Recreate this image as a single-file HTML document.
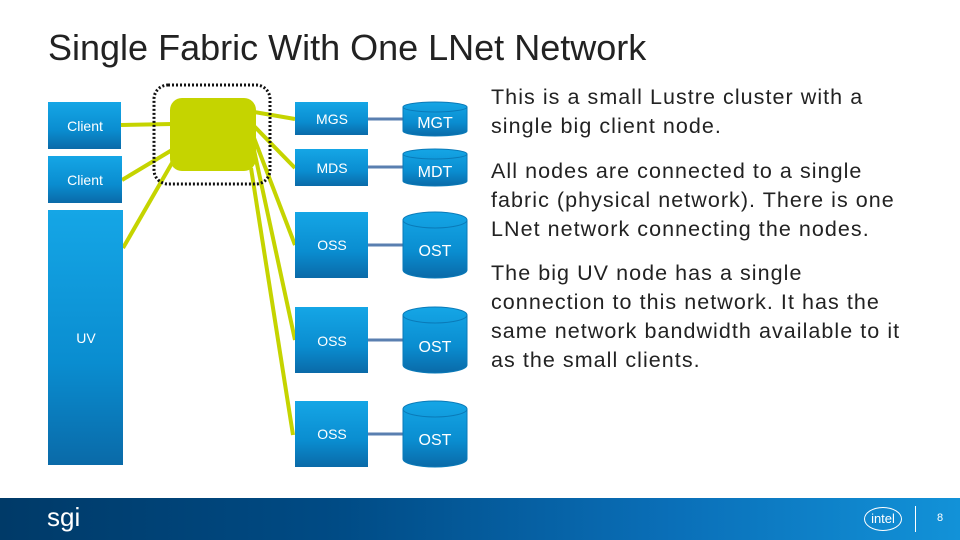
<!DOCTYPE html>
<html><head><style>
body{margin:0;width:960px;height:540px;position:relative;background:#fff;font-family:"Liberation Sans",sans-serif;overflow:hidden}
.t{position:absolute;left:48px;top:27px;font-size:36px;color:#222}
.p{position:absolute;left:491px;width:420px;font-size:21.5px;color:#222;line-height:29px;letter-spacing:1.05px;white-space:nowrap}
.f{position:absolute;left:0;top:498px;width:960px;height:42px;background:linear-gradient(90deg,#003a68 0%,#004b85 35%,#0a6fb8 70%,#1292d8 100%)}
</style></head><body>
<div class="t">Single Fabric With One LNet Network</div>
<svg width="960" height="540" style="position:absolute;left:0;top:0">
<defs>
<linearGradient id="b" x1="0" y1="0" x2="0" y2="1"><stop offset="0" stop-color="#15a6e6"/><stop offset="0.6" stop-color="#0a8dd0"/><stop offset="1" stop-color="#0a6aa8"/></linearGradient>
</defs>
<g stroke="#c5d400" stroke-width="4" fill="none">
<line x1="121" y1="125" x2="172" y2="124"/>
<line x1="122" y1="180" x2="172" y2="150"/>
<line x1="123" y1="248" x2="172" y2="163"/>
<line x1="254" y1="112" x2="295" y2="119"/>
<line x1="254" y1="126" x2="295" y2="168"/>
<line x1="254" y1="138" x2="295" y2="245"/>
<line x1="254" y1="150" x2="295" y2="340"/>
<line x1="251" y1="168" x2="293" y2="435"/>
</g>
<rect x="170" y="98" width="86" height="73" rx="12" fill="#c5d400"/>
<rect x="154" y="85" width="116" height="99" rx="14" fill="none" stroke="#111" stroke-width="3" stroke-dasharray="2,2"/>
<g stroke="#5a7fb0" stroke-width="3">
<line x1="368" y1="119" x2="404" y2="119"/><line x1="368" y1="167" x2="404" y2="167"/>
<line x1="368" y1="245" x2="404" y2="245"/><line x1="368" y1="340" x2="404" y2="340"/><line x1="368" y1="434" x2="404" y2="434"/>
</g>
<g fill="url(#b)">
<rect x="48" y="102" width="73" height="47"/><rect x="48" y="156" width="74" height="47"/><rect x="48" y="210" width="75" height="255"/>
<rect x="295" y="102" width="73" height="33"/><rect x="295" y="149" width="73" height="37"/>
<rect x="295" y="212" width="73" height="66"/><rect x="295" y="307" width="73" height="66"/><rect x="295" y="401" width="73" height="66"/>
</g>
<g fill="url(#b)" stroke="#0a7ab8" stroke-width="1">
<path d="M403 107 A32 5 0 0 1 467 107 V131 A32 5 0 0 1 403 131 Z"/>
<path d="M403 154 A32 5 0 0 1 467 154 V181 A32 5 0 0 1 403 181 Z"/>
<path d="M403 220 A32 8 0 0 1 467 220 V270 A32 8 0 0 1 403 270 Z"/>
<path d="M403 315 A32 8 0 0 1 467 315 V365 A32 8 0 0 1 403 365 Z"/>
<path d="M403 409 A32 8 0 0 1 467 409 V459 A32 8 0 0 1 403 459 Z"/>
</g>
<g fill="none" stroke="#0a7ab8"><path d="M403 107 A32 5 0 0 0 467 107"/><path d="M403 154 A32 5 0 0 0 467 154"/><path d="M403 220 A32 8 0 0 0 467 220"/><path d="M403 315 A32 8 0 0 0 467 315"/><path d="M403 409 A32 8 0 0 0 467 409"/></g>
<g fill="#fff" font-family="Liberation Sans,sans-serif" text-anchor="middle">
<g font-size="14"><text x="85" y="131">Client</text><text x="85" y="185">Client</text><text x="86" y="343">UV</text>
<text x="332" y="124">MGS</text><text x="332" y="173">MDS</text><text x="332" y="250">OSS</text><text x="332" y="346">OSS</text><text x="332" y="439">OSS</text></g>
<g font-size="16"><text x="435" y="128">MGT</text><text x="435" y="177">MDT</text><text x="435" y="256">OST</text><text x="435" y="352">OST</text><text x="435" y="445">OST</text></g>
</g>
</svg>
<div class="p" style="top:83px">This is a small Lustre cluster with a<br>single big client node.</div>
<div class="p" style="top:157px">All nodes are connected to a single<br>fabric (physical network). There is one<br>LNet network connecting the nodes.</div>
<div class="p" style="top:259px">The big UV node has a single<br>connection to this network. It has the<br>same network bandwidth available to it<br>as the small clients.</div>
<div class="f">
<div style="position:absolute;left:47px;top:4px;color:#fff;font-size:26px">sgi</div>
<div style="position:absolute;left:864px;top:9px;width:36px;height:22px;border:1.5px solid #fff;border-radius:50%;color:#fff;font-size:13px;text-align:center;line-height:22px">intel</div>
<div style="position:absolute;left:915px;top:8px;width:1px;height:26px;background:#fff"></div>
<div style="position:absolute;left:937px;top:14px;color:#fff;font-size:11px">8</div>
</div>
</body></html>
